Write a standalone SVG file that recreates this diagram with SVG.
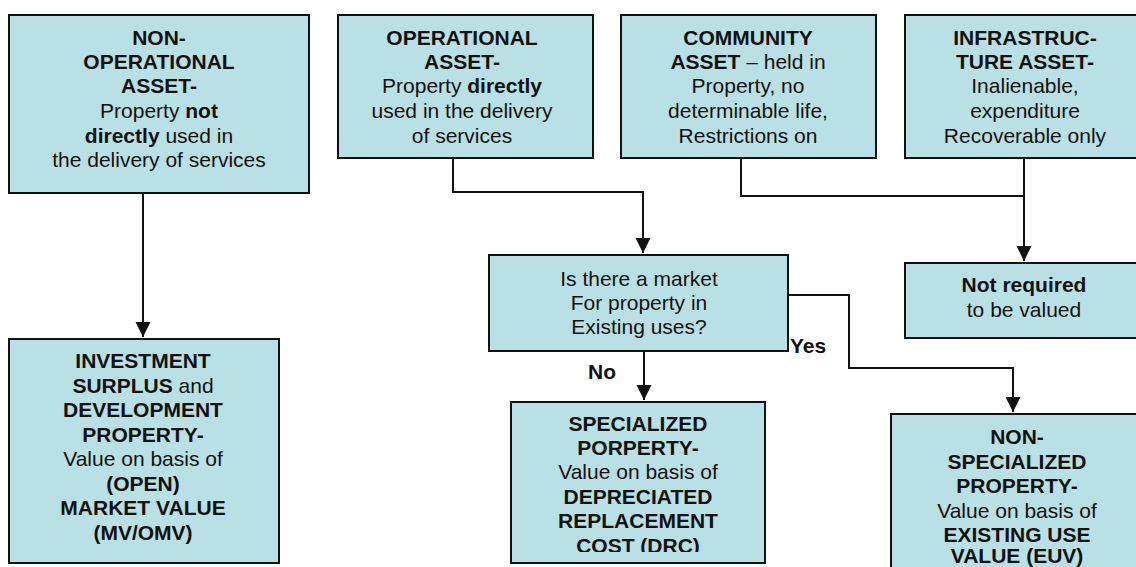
<svg xmlns="http://www.w3.org/2000/svg" width="1136" height="567" viewBox="0 0 1136 567">
<style>
.box{fill:#b9e0e4;stroke:#111;stroke-width:2}
text{font-family:"Liberation Sans",Arial,sans-serif;font-size:21px;fill:#111;text-anchor:middle}
.b{font-weight:bold}
.lbl{text-anchor:start;font-weight:bold}
.conn{fill:none;stroke:#111;stroke-width:2}
</style>
<defs>
<marker id="arr" markerUnits="userSpaceOnUse" markerWidth="16" markerHeight="16" viewBox="0 0 16 16" refX="15" refY="8" orient="auto">
<path d="M0,0.5 L15,8 L0,15.5 Z" fill="#111"/>
</marker>
<clipPath id="clipSpec"><rect x="511" y="402" width="254" height="150"/></clipPath>
</defs>
<g id="connectors">
<path class="conn" d="M143,193 V337" marker-end="url(#arr)"/>
<path class="conn" d="M453,158 V192 H643 V253" marker-end="url(#arr)"/>
<path class="conn" d="M741,158 V196 H1024"/>
<path class="conn" d="M1024,158 V261" marker-end="url(#arr)"/>
<path class="conn" d="M644,351 V400" marker-end="url(#arr)"/>
<path class="conn" d="M788,295 H849 V368 H1013 V412" marker-end="url(#arr)"/>
</g>
<g id="non-operational">
<rect class="box" x="9" y="15" width="300" height="178"/>
<text x="159" y="45" class="b">NON-</text>
<text x="159" y="69" class="b">OPERATIONAL</text>
<text x="159" y="93" class="b">ASSET-</text>
<text x="159" y="118">Property <tspan class="b">not</tspan></text>
<text x="159" y="143"><tspan class="b">directly</tspan> used in</text>
<text x="159" y="167">the delivery of services</text>
</g>
<g id="operational">
<rect class="box" x="338" y="15" width="255" height="143"/>
<text x="462" y="45" class="b">OPERATIONAL</text>
<text x="462" y="69" class="b">ASSET-</text>
<text x="462" y="93">Property <tspan class="b">directly</tspan></text>
<text x="462" y="118">used in the delivery</text>
<text x="462" y="143">of services</text>
</g>
<g id="community">
<rect class="box" x="621" y="15" width="255" height="143"/>
<text x="748" y="45" class="b">COMMUNITY</text>
<text x="748" y="69"><tspan class="b">ASSET</tspan> – held in</text>
<text x="748" y="93">Property, no</text>
<text x="748" y="118">determinable life,</text>
<text x="748" y="143">Restrictions on</text>
</g>
<g id="infrastructure">
<rect class="box" x="905" y="15" width="240" height="143"/>
<text x="1025" y="45" class="b">INFRASTRUC-</text>
<text x="1025" y="69" class="b">TURE ASSET-</text>
<text x="1025" y="93">Inalienable,</text>
<text x="1025" y="118">expenditure</text>
<text x="1025" y="143">Recoverable only</text>
</g>
<g id="decision">
<rect class="box" x="489" y="255" width="299" height="96"/>
<text x="639" y="286">Is there a market</text>
<text x="639" y="310">For property in</text>
<text x="639" y="334">Existing uses?</text>
</g>
<g id="not-required">
<rect class="box" x="905" y="263" width="240" height="75"/>
<text x="1024" y="292" class="b">Not required</text>
<text x="1024" y="317">to be valued</text>
</g>
<g id="investment">
<rect class="box" x="9" y="339" width="270" height="224"/>
<text x="143" y="368" class="b">INVESTMENT</text>
<text x="143" y="393"><tspan class="b">SURPLUS</tspan> and</text>
<text x="143" y="417" class="b">DEVELOPMENT</text>
<text x="143" y="442" class="b">PROPERTY-</text>
<text x="143" y="466">Value on basis of</text>
<text x="143" y="491" class="b">(OPEN)</text>
<text x="143" y="515" class="b">MARKET VALUE</text>
<text x="143" y="540" class="b">(MV/OMV)</text>
</g>
<g id="specialized">
<rect class="box" x="511" y="402" width="254" height="161"/>
<g clip-path="url(#clipSpec)">
<text x="638" y="431" class="b">SPECIALIZED</text>
<text x="638" y="455" class="b">PORPERTY-</text>
<text x="638" y="479">Value on basis of</text>
<text x="638" y="504" class="b">DEPRECIATED</text>
<text x="638" y="528" class="b">REPLACEMENT</text>
<text x="638" y="553" class="b">COST (DRC)</text>
</g>
</g>
<g id="non-specialized">
<rect class="box" x="891" y="414" width="252" height="170"/>
<text x="1017" y="444" class="b">NON-</text>
<text x="1017" y="469" class="b">SPECIALIZED</text>
<text x="1017" y="493" class="b">PROPERTY-</text>
<text x="1017" y="518">Value on basis of</text>
<text x="1017" y="542" class="b">EXISTING USE</text>
<text x="1017" y="563" class="b">VALUE (EUV)</text>
</g>
<g id="labels">
<text x="588" y="379" class="lbl">No</text>
<text x="790" y="353" class="lbl">Yes</text>
</g>
</svg>
